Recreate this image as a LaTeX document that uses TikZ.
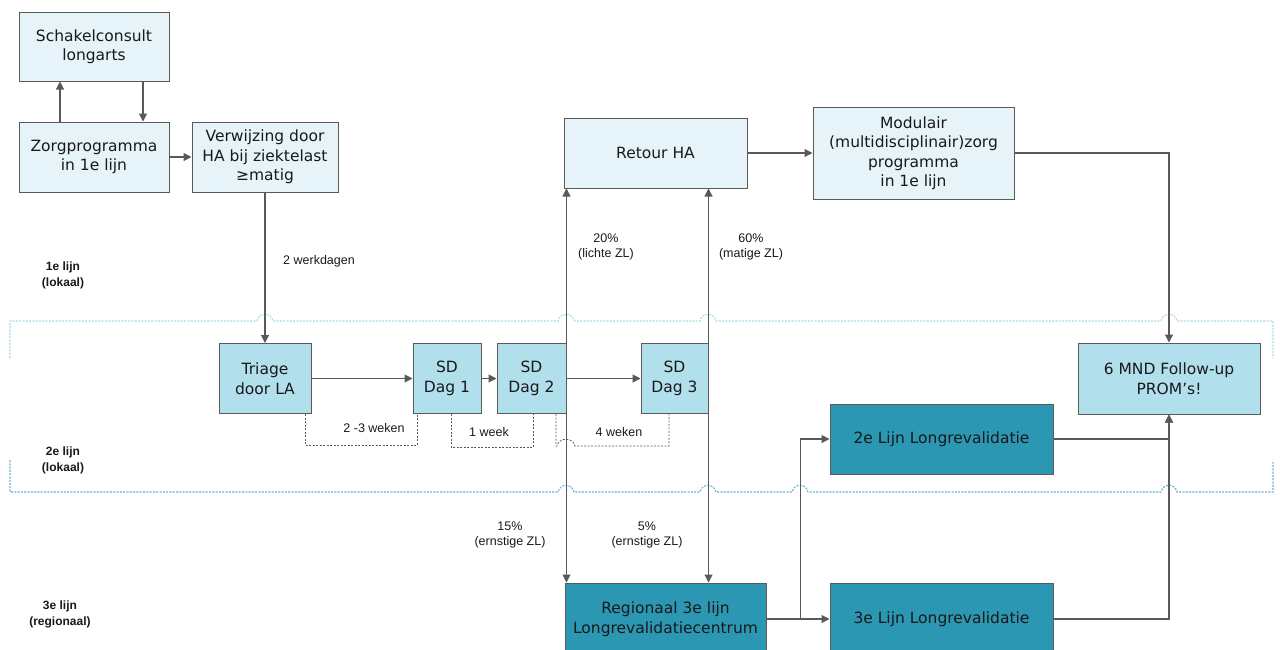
\documentclass[tikz,border=0pt]{standalone}
\usepackage{fontspec}
\setmainfont{DejaVu Sans}
\newfontfamily\labfont{Liberation Sans}
\usetikzlibrary{arrows.meta,calc}
\definecolor{lightbox}{HTML}{E6F4FA}
\definecolor{midbox}{HTML}{B1E0EC}
\definecolor{darkbox}{HTML}{2B97B3}
\definecolor{boxborder}{HTML}{5A5A5A}
\definecolor{linecol}{HTML}{595959}
\definecolor{laneA}{HTML}{A4DAEA}
\definecolor{laneB}{HTML}{5CB6CF}
\begin{document}
\begin{tikzpicture}[x=1pt,y=-1pt,
  box/.style={draw=boxborder, line width=1pt, align=center, text=black!90,
    font=\fontsize{15.5}{19.5}\selectfont, inner sep=2pt},
  lbox/.style={box, fill=lightbox},
  mbox/.style={box, fill=midbox},
  dbox/.style={box, fill=darkbox},
  conn/.style={draw=linecol, line width=1.1pt, -{Triangle[length=8pt,width=8pt]}},
  plainline/.style={draw=linecol, line width=1.1pt},
  bracket/.style={draw=linecol, line width=0.8pt, dash pattern=on 2pt off 1.5pt},
  lbl/.style={align=center, font=\labfont\fontsize{12.5}{15}\selectfont, text=black!90, inner sep=0pt},
  lanelbl/.style={align=center, font=\labfont\bfseries\fontsize{12}{16}\selectfont, text=black!90, inner sep=0pt},
  lane/.style={line width=1.1pt, dash pattern=on 2pt off 1.3pt}
]
\useasboundingbox (0,0) rectangle (1280,649);

% lanes
\draw[lane, draw=laneA] (10,358) -- (10,321) -- (257,321) .. controls (259,312) and (271,312) .. (273,321)
  -- (558,321) .. controls (560,312) and (572,312) .. (574,321)
  -- (700,321) .. controls (702,312) and (714,312) .. (716,321)
  -- (1161,321) .. controls (1163,312) and (1175,312) .. (1177,321)
  -- (1273,321) -- (1273,358);
\draw[lane, draw=laneB] (10,460) -- (10,492) -- (558,492) .. controls (560,483) and (572,483) .. (574,492)
  -- (700,492) .. controls (702,483) and (714,483) .. (716,492)
  -- (792,492) .. controls (794,483) and (806,483) .. (808,492)
  -- (1161,492) .. controls (1163,483) and (1175,483) .. (1177,492)
  -- (1273,492) -- (1273,462);

% nodes
\node[lbox, minimum width=150pt, minimum height=69pt] (schak) at (94,46.5) {Schakelconsult\\longarts};
\node[lbox, minimum width=150pt, minimum height=70pt] (zorg) at (94,157) {Zorgprogramma\\in 1e lijn};
\node[lbox, minimum width=146pt, minimum height=70pt] (verw) at (265,157) {Verwijzing door\\HA bij ziektelast\\≥matig};
\node[mbox, minimum width=92pt, minimum height=70pt] (triage) at (265,378.5) {Triage\\door LA};
\node[mbox, minimum width=68pt, minimum height=70pt] (sd1) at (447,378.5) {SD\\Dag 1};
\node[mbox, minimum width=69pt, minimum height=70pt] (sd2) at (531.5,378.5) {SD\\Dag 2};
\node[mbox, minimum width=67pt, minimum height=70pt] (sd3) at (674.5,378.5) {SD\\Dag 3};
\node[lbox, minimum width=183pt, minimum height=70pt] (ret) at (655.5,153) {Retour HA};
\node[lbox, minimum width=201pt, minimum height=92pt] (mod) at (913.5,153) {Modulair\\(multidisciplinair)zorg\\programma\\in 1e lijn};
\node[mbox, minimum width=182pt, minimum height=71pt] (mnd) at (1169,378.5) {6 MND Follow-up\\PROM’s!};
\node[dbox, minimum width=223pt, minimum height=70pt] (l2) at (941.5,439) {2e Lijn Longrevalidatie};
\node[dbox, minimum width=201pt, minimum height=72pt] (reg) at (665.5,619) {Regionaal 3e lijn\\Longrevalidatiecentrum};
\node[dbox, minimum width=223pt, minimum height=72pt] (l3) at (941.5,619) {3e Lijn Longrevalidatie};

% connectors
\draw[conn] ([xshift=-34pt]zorg.north) -- ([xshift=-34pt]zorg.north |- schak.south);
\draw[conn] ([xshift=49pt]zorg.north |- schak.south) -- ([xshift=49pt]zorg.north);
\draw[conn] (zorg.east) -- (verw.west);
\draw[conn] (verw.south) -- (triage.north);
\draw[conn] (triage.east) -- (sd1.west);
\draw[conn] (sd1.east) -- (sd2.west);
\draw[conn] (sd2.east) -- (sd3.west);
\draw[conn] (sd2.north east) -- (sd2.north east |- ret.south);
\draw[conn] (sd2.south east) -- (sd2.south east |- reg.north);
\draw[conn] (sd3.north east) -- (sd3.north east |- ret.south);
\draw[conn] (sd3.south east) -- (sd3.south east |- reg.north);
\draw[conn] (ret.east) -- (mod.west);
\draw[conn] (mod.east) -| (mnd.north);
\draw[conn] (reg.east) -- (l3.west);
\coordinate (br) at ([xshift=34pt]reg.east);
\draw[conn] (br) |- (l2.west);
\draw[conn] (l2.east) -| (mnd.south);
\draw[conn] (l3.east) -| (mnd.south);

% dashed brackets
\draw[bracket] ([xshift=40pt]triage.south) -- ++(0,31) -| ([xshift=-30pt]sd1.south);
\draw[bracket] ([xshift=4pt]sd1.south) -- ++(0,33) -| ([xshift=1.5pt]sd2.south);
\coordinate (b3a) at ([xshift=24.5pt]sd2.south);
\draw[bracket] (b3a) -- (556,446) -- (557,446) .. controls (559,437) and (573,437) .. (575,446) -| ([xshift=-5.5pt]sd3.south);

% labels
\node[lbl] (lw) at (319,261) {2 werkdagen};
\node[lbl] (lw1) at (374,428) {2 -3 weken};
\node[lbl] (lw2) at (489,432) {1 week};
\node[lbl] (lw3) at (619,432) {4 weken};
\node[lbl] (p20) at (606,246.5) {20\%\\(lichte ZL)};
\node[lbl] (p60) at (751,246.5) {60\%\\(matige ZL)};
\node[lbl] (p15) at (510,535) {15\%\\(ernstige ZL)};
\node[lbl] (p5) at (647,535) {5\%\\(ernstige ZL)};
\node[lanelbl] (ln1) at (63,275) {1e lijn\\(lokaal)};
\node[lanelbl] (ln2) at (63,460) {2e lijn\\(lokaal)};
\node[lanelbl] (ln3) at (60,614) {3e lijn\\(regionaal)};
\end{tikzpicture}
\end{document}
